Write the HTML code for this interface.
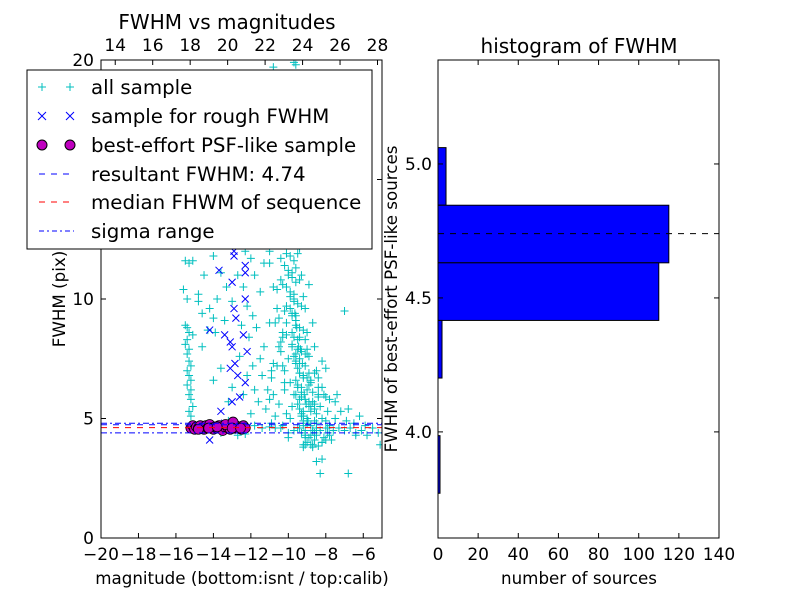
<!DOCTYPE html>
<html><head><meta charset="utf-8"><style>
html,body{margin:0;padding:0;background:#fff;}
svg{display:block;font-family:"DejaVu Sans","Liberation Sans",sans-serif;}
</style></head><body>
<svg id="fig" width="800" height="600" viewBox="0 0 800 600" xmlns="http://www.w3.org/2000/svg" style="position:absolute;left:0;top:0">
<rect width="800" height="600" fill="#fff"/>
<g id="left"></g>
<g id="right"></g>
</svg>
<script>
// ---- scatter data ----
const allSampleX = [
 -15.5,-15.4,-15.3,-15.4,-15.5,-15.3,-15.4,-15.3,-15.2,-15.4,
 -15.3,-15.2,-15.4,-15.2,-15.3,-15.2,-15.1,-15.3,-15.2,
 -15.5,-15.3,-15.1,-15.6,-15.4,-14.8,-14.5,-14.8,-14.6,-14.0,-14.2,-15.1,
 -14.3,-13.9,-14.6,-14.0,-13.6,-13.3,-13.8,-13.4,-13.0,-12.7,
 -12.4,-12.0,-11.8,-11.5,-12.2,-11.9,-12.5,-12.1,-11.7,-11.3,
 -12.6,-11.9,-11.5,-12.2,-11.8,-11.4,-12.4,-11.6,-12.0,-11.2,
 -11.1,-10.9,-11.0,-10.8,-11.3,-13.0,-13.6,-14.0,-13.2,-13.6,
 -12.7,-12.3,
 -9.9,-9.7,-10.2,-9.5,-10.0,-9.8,-10.4,-9.6,-11.0,-9.3,
 -9.8,-9.6,-10.1,-9.4,-9.9,-10.3,-9.7,-10.6,-9.2,-8.9,
 -9.7,-9.5,-9.9,-9.3,-9.8,-10.2,-9.6,-10.5,-9.1,-8.7,
 -9.6,-9.4,-9.8,-9.2,-9.7,-10.1,-9.5,-10.4,-9.0,-8.6,
 -9.5,-9.3,-9.7,-9.1,-9.6,-10.0,-9.4,-10.3,-8.9,-8.5,
 -9.4,-9.2,-9.6,-9.0,-9.5,-9.9,-9.3,-10.2,-8.8,-8.4,
 -9.3,-9.1,-9.5,-8.9,-9.4,-9.8,-9.2,-10.1,-8.6,-8.2,
 -9.2,-9.0,-9.4,-8.8,-9.3,-9.7,-9.1,-10.0,-8.5,-8.0,
 -9.0,-8.8,-9.2,-8.6,-9.1,-8.4,-8.9,-8.2,-7.8,-8.7,
 -9.5,-9.0,-9.8,-9.3,-8.8,-9.6,-9.1,-9.4,-8.9,-9.7,
 -9.45,-9.25,-9.15,-9.35,-9.05,-9.55,-8.95,-9.65,-9.2,-9.4,
 -8.6,-8.3,-8.1,-7.9,-8.5,-8.0,-8.7,-8.4,-8.2,-7.7,
 -11.8,-11.4,-11.0,-10.7,-10.3,-8.0,-7.6,-7.3,-7.0,-6.7,
 -6.4,-6.1,-5.8,-5.5,-5.2,-7.9,-7.5,-7.2,-6.9,-6.5,
 -6.2,-8.2,-7.8,-7.4,-6.8,-10.8,-10.5,-10.9,-10.6,-11.0,
 -8.5,-8.2,-8.3,-6.8,-6.4,-5.1,-7.0,-5.9,-7.5,-8.0,
 -9.6,-9.7,-10.8,-9.4,-11.0,-12.3,-13.2,-10.1,-10.4,-10.7,
 -9.0,-8.9,-9.3,-8.7,-9.1,-8.8,-9.4,-8.6,-9.2,-8.5,
 -9.6,-9.1,-8.9,-9.3,-8.7,-9.5,-9.0,-8.8,-9.2,-8.4,
 -10.0,-9.9,-10.1,-9.8,-10.2,-9.7,-9.9,-10.3,-9.6,-10.0,
 -10.4,-10.6,-10.2,-10.8,-10.5,-10.3,-10.7,-10.1,-10.9,-10.4,
 -8.3,-8.1,-8.6,-7.9,-8.4,-8.2,-8.7,-8.0,-8.5,-7.8,
 -9.8,-9.4,-9.0,-8.6,-9.6,-9.2,-8.8,-9.5,-9.1,-8.7];
const allSampleY = [
 8.9,8.8,8.6,8.3,8.1,7.9,7.7,7.4,7.2,7.0,
 6.8,6.6,6.4,6.2,6.0,5.8,5.5,5.3,5.1,
 11.6,11.5,11.6,10.4,10.0,9.9,11.0,10.2,9.4,9.2,9.6,8.5,
 8.7,8.6,8.0,11.8,11.1,10.5,10.0,9.1,9.9,11.0,
 10.5,11.7,11.0,10.3,9.7,9.3,8.9,8.4,8.8,8.0,
 7.6,7.2,7.5,6.8,6.2,6.8,6.0,5.7,5.2,5.4,
 6.2,7.0,9.0,10.5,11.5,6.3,7.1,6.6,5.7,4.4,
 4.3,4.35,
 11.8,11.6,11.4,11.9,11.2,11.1,11.7,11.3,11.5,11.0,
 10.9,10.7,10.5,10.8,10.3,10.6,10.2,10.4,10.1,10.6,
 9.9,9.8,9.6,9.7,9.4,9.5,9.3,9.2,9.6,9.0,
 8.9,8.8,8.6,8.7,8.4,8.5,8.3,8.2,8.6,8.0,
 7.9,7.8,7.6,7.7,7.4,7.5,7.3,7.2,7.6,7.0,
 6.9,6.8,6.6,6.7,6.4,6.5,6.3,6.2,6.6,6.0,
 5.9,5.8,5.6,5.7,5.4,5.5,5.3,5.2,5.6,5.0,
 4.9,4.8,4.6,4.7,4.4,4.5,4.3,4.2,4.6,4.1,
 4.0,3.9,3.8,4.1,3.9,3.85,4.2,4.0,4.3,3.8,
 7.1,6.2,8.1,5.1,5.3,9.1,4.5,7.5,6.4,10.0,
 8.0,7.3,6.0,7.9,5.6,8.8,4.9,9.4,6.7,6.9,
 4.4,4.5,4.2,4.6,5.2,4.9,5.7,6.3,4.0,4.1,
 4.7,4.6,4.65,4.6,4.7,4.6,4.5,4.6,4.5,4.6,
 4.4,4.5,4.3,4.6,4.4,4.4,5.0,5.3,4.9,4.8,
 5.1,6.3,5.8,6.0,5.4,7.3,8.0,6.7,9.6,5.8,
 3.2,3.3,2.7,2.7,4.3,3.9,9.5,4.7,5.7,7.1,
 19.8,19.9,19.7,12.1,12.0,12.0,4.9,11.9,10.8,9.0,
 5.0,5.5,6.1,4.5,7.2,6.5,5.8,5.4,4.7,4.8,
 7.7,8.3,6.9,5.2,6.1,6.3,7.7,4.3,3.9,5.9,
 11.0,10.1,9.0,8.0,7.0,6.0,5.0,8.6,7.3,4.4,
 7.8,7.2,6.5,6.0,5.6,8.4,5.1,9.7,4.8,4.6,
 5.5,6.0,4.9,5.3,6.7,7.4,4.5,5.9,4.3,4.7,
 9.3,8.4,7.9,6.9,6.0,5.1,5.5,4.6,4.2,3.9];
const roughX = [-13.7,-12.9,-12.3,-12.3,-13.0,-12.9,-12.8,-12.3,-14.2,-13.4,-13.1,-13.0,-12.4,-12.2,-13.1,-12.85,-12.7,-12.3,-13.0,-12.6,-13.6,-14.2,-13.4,-12.9,-14.4,-13.0,-12.5];
const roughY = [11.2,11.8,11.4,11.1,10.7,9.6,9.2,10.0,8.7,8.5,8.2,8.0,8.5,7.8,7.1,7.3,6.8,6.5,5.7,5.9,5.3,4.1,4.8,12.0,4.6,4.5,4.6];
const psfX = [-15.2,-15.1,-15.0,-14.9,-14.8,-14.7,-14.6,-14.5,-14.4,-14.3,-14.2,-14.1,-14.0,-13.9,-13.8,-13.7,-13.6,-13.5,-13.4,-13.3,-13.2,-13.1,-13.0,-12.9,-12.8,-12.7,-12.6,-12.5,-12.4,-12.3,-14.25,-13.35,-12.95,-13.0,-12.55,-14.8,-13.8];
const psfY = [4.6,4.7,4.55,4.65,4.6,4.7,4.6,4.55,4.7,4.6,4.75,4.6,4.55,4.65,4.6,4.7,4.6,4.5,4.65,4.7,4.6,4.55,4.8,4.6,4.7,4.6,4.65,4.55,4.7,4.6,4.6,4.75,4.85,4.6,4.6,4.55,4.65];
const resultantFWHM = 4.74;
const medianFWHM = 4.62;
const sigmaLow = 4.40;
const sigmaHigh = 4.80;
const bottomTicks = [-20,-18,-16,-14,-12,-10,-8,-6];
const topTicks = [14,16,18,20,22,24,26,28];
const leftYTicks = [0,5,10,15,20];
// ---- histogram data ----
const binEdges = [5.276,5.061,4.846,4.631,4.416,4.201,3.986,3.771];
const binCounts = [0,4,115,110,2,0,1];
const histXTicks = [0,20,40,60,80,100,120,140];
const histYTicks = [4.0,4.5,5.0];

const NS="http://www.w3.org/2000/svg";
function mk(parent,tag,attrs,text){const e=document.createElementNS(NS,tag);for(const k in attrs)e.setAttribute(k,attrs[k]);if(text!==undefined)e.textContent=text;parent.appendChild(e);return e;}

const L={x0:101,x1:382,y0:60,y1:538};
const sx=v=>L.x0+(v-(-20))/(15)*(L.x1-L.x0);
const sy=v=>L.y1-(v-0)/20*(L.y1-L.y0);
const calibOffset=33.24;
const sxTop=v=>sx(v-calibOffset);
const left=document.getElementById('left');

const defs=mk(document.getElementById('fig'),'defs',{});
const cp=mk(defs,'clipPath',{id:'clipL'});mk(cp,'rect',{x:L.x0,y:L.y0,width:L.x1-L.x0,height:L.y1-L.y0});
const cp2=mk(defs,'clipPath',{id:'clipR'});mk(cp2,'rect',{x:438,y:60,width:281,height:478});

const plot=mk(left,'g',{'clip-path':'url(#clipL)'});
function hline(v,color,dash,name){
  const l=mk(plot,'line',{x1:L.x0,x2:L.x1,y1:sy(v),y2:sy(v),stroke:color,'stroke-width':1,'stroke-dasharray':dash});
  
  
}
for(let i=0;i<allSampleX.length;i++){
  const x=sx(allSampleX[i]),y=sy(allSampleY[i]);
  const p=mk(plot,'path',{d:`M${x-4},${y}H${x+4}M${x},${y-4}V${y+4}`,stroke:'#00bfbf','stroke-width':1,fill:'none'});
  
  
}
for(let i=0;i<roughX.length;i++){
  const x=sx(roughX[i]),y=sy(roughY[i]);
  const p=mk(plot,'path',{d:`M${x-3.5},${y-3.5}L${x+3.5},${y+3.5}M${x-3.5},${y+3.5}L${x+3.5},${y-3.5}`,stroke:'#0000ff','stroke-width':1,fill:'none'});
  
  
}
for(let i=0;i<psfX.length;i++){
  const c=mk(plot,'circle',{cx:sx(psfX[i]),cy:sy(psfY[i]),r:5,fill:'#bf00bf',stroke:'#000','stroke-width':0.8});
  
  
}
hline(sigmaHigh,'#0000ff','6 3 2 3','sigma-upper-line');
hline(medianFWHM,'#ff0000','6 6','median-line');
hline(resultantFWHM,'#0000ff','6 6','resultant-line');
hline(sigmaLow,'#0000ff','6 3 2 3','sigma-lower-line');

const frame=mk(left,'rect',{x:L.x0,y:L.y0,width:L.x1-L.x0,height:L.y1-L.y0,fill:'none',stroke:'#000','stroke-width':1});


bottomTicks.forEach(t=>{
  const x=sx(t);
  mk(left,'line',{x1:x,x2:x,y1:L.y1,y2:L.y1-5,stroke:'#000'});
  const tx=mk(left,'text',{x:x,y:560,'font-size':17,'text-anchor':'middle'},(t<0?'\u2212':'')+Math.abs(t));
  
  
});
topTicks.forEach(t=>{
  const x=sxTop(t);
  mk(left,'line',{x1:x,x2:x,y1:L.y0,y2:L.y0+5,stroke:'#000'});
  const tx=mk(left,'text',{x:x,y:51,'font-size':17,'text-anchor':'middle'},String(t));
  
  
});
leftYTicks.forEach(t=>{
  const y=sy(t);
  mk(left,'line',{x1:L.x0,x2:L.x0+5,y1:y,y2:y,stroke:'#000'});
  mk(left,'line',{x1:L.x1,x2:L.x1-5,y1:y,y2:y,stroke:'#000'});
  const tx=mk(left,'text',{x:94,y:y+6,'font-size':17,'text-anchor':'end'},String(t));
  
  
});
(function(){
function t(parent,attrs,text,name){const e=mk(parent,'text',attrs,text);return e;}
t(left,{x:227,y:29,'font-size':20,'text-anchor':'middle'},'FWHM vs magnitudes','scatter-title');
t(left,{x:242,y:584,'font-size':16.7,'text-anchor':'middle'},'magnitude (bottom:isnt / top:calib)','scatter-x-axis-title');
t(left,{x:65,y:299,'font-size':16.7,'text-anchor':'middle',transform:'rotate(-90 65 299)'},'FWHM (pix)','scatter-y-axis-title');
})();
</script>
<svg style="position:absolute;left:0;top:0" width="800" height="600">
<g font-family="DejaVu Sans, Liberation Sans, sans-serif" font-size="19.8">
<rect x="27" y="70" width="345" height="179" fill="#fff" stroke="#000" stroke-width="1"/>
<g><path d="M38,87H46M42,83V91M66,87H74M70,83V91" stroke="#00bfbf"/><text x="91" y="94">all sample</text></g>
<g><path d="M38,112L46,120M38,120L46,112M66,112L74,120M66,120L74,112" stroke="#0000ff"/><text x="91" y="123">sample for rough FWHM</text></g>
<g><circle cx="42" cy="145" r="5" fill="#bf00bf" stroke="#000"/><circle cx="70" cy="145" r="5" fill="#bf00bf" stroke="#000"/><text x="91" y="152">best-effort PSF-like sample</text></g>
<g><line x1="39" x2="74" y1="174" y2="174" stroke="#0000ff" stroke-dasharray="6 6"/><text x="91" y="181">resultant FWHM: 4.74</text></g>
<g><line x1="39" x2="74" y1="202" y2="202" stroke="#ff0000" stroke-dasharray="6 6"/><text x="91" y="209">median FHWM of sequence</text></g>
<g><line x1="39" x2="74" y1="231" y2="231" stroke="#0000ff" stroke-dasharray="5 3 2 3"/><text x="91" y="238">sigma range</text></g>
</g>
</svg>
<script>
(function(){
const R={x0:438,x1:719,y0:60,y1:538,vmin:3.604,vmax:5.388,cmax:140};
const hx=c=>R.x0+c/R.cmax*(R.x1-R.x0);
const hy=v=>R.y1-(v-R.vmin)/(R.vmax-R.vmin)*(R.y1-R.y0);
const right=document.getElementById('right');
const g=mk(right,'g',{'clip-path':'url(#clipR)'});
for(let i=0;i<binCounts.length;i++){
  const yTop=hy(binEdges[i]),yBot=hy(binEdges[i+1]);
  const r=mk(g,'rect',{x:hx(0),y:yTop,width:hx(binCounts[i])-hx(0),height:yBot-yTop,fill:'#0000ff',stroke:'#000','stroke-width':1});
  
  
}
const dl=mk(g,'line',{x1:R.x0,x2:R.x1,y1:hy(resultantFWHM),y2:hy(resultantFWHM),stroke:'#000','stroke-dasharray':'6 6'});


const fr=mk(right,'rect',{x:R.x0,y:R.y0,width:R.x1-R.x0,height:R.y1-R.y0,fill:'none',stroke:'#000'});


histXTicks.forEach(t=>{
  const x=hx(t);
  mk(right,'line',{x1:x,x2:x,y1:R.y1,y2:R.y1-5,stroke:'#000'});
  mk(right,'line',{x1:x,x2:x,y1:R.y0,y2:R.y0+5,stroke:'#000'});
  const tx=mk(right,'text',{x:x,y:560,'font-size':17,'text-anchor':'middle'},String(t));
  
  
});
histYTicks.forEach(t=>{
  const y=hy(t);
  mk(right,'line',{x1:R.x0,x2:R.x0+5,y1:y,y2:y,stroke:'#000'});
  mk(right,'line',{x1:R.x1,x2:R.x1-5,y1:y,y2:y,stroke:'#000'});
  const tx=mk(right,'text',{x:432,y:y+6,'font-size':17,'text-anchor':'end'},t.toFixed(1));
  
  
});
const tt=mk(right,'text',{x:579,y:53,'font-size':20,'text-anchor':'middle'},'histogram of FWHM');


const xl=mk(right,'text',{x:579,y:584,'font-size':16.7,'text-anchor':'middle'},'number of sources');


const yl=mk(right,'text',{x:397,y:299,'font-size':16.7,'text-anchor':'middle',transform:'rotate(-90 397 299)'},'FWHM of best-effort PSF-like sources');


})();
</script>
</body></html>
